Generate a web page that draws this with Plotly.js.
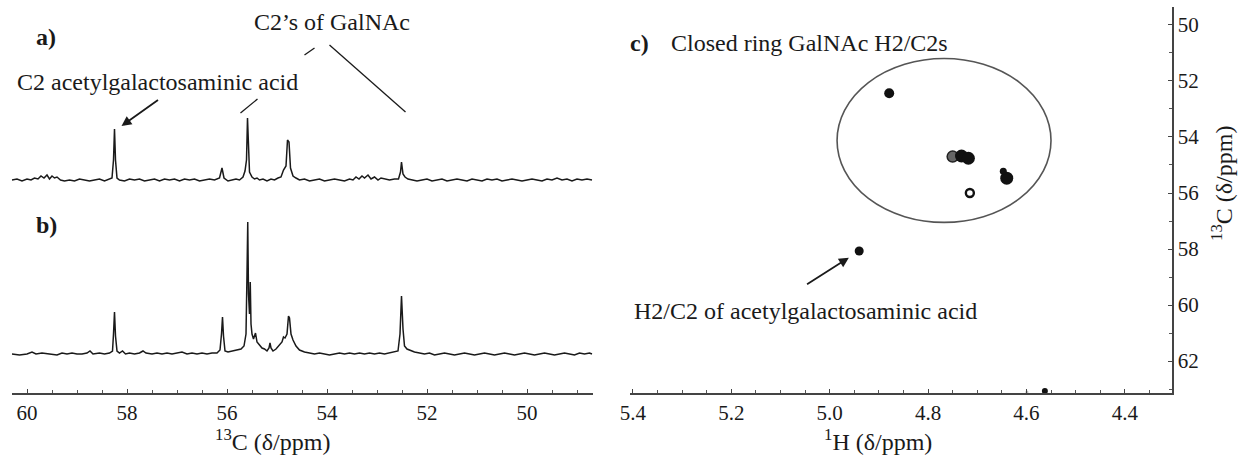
<!DOCTYPE html>
<html>
<head>
<meta charset="utf-8">
<script src="https://cdn.plot.ly/plotly-3.0.1.min.js"></script>
<style>html,body{margin:0;padding:0;background:#fff}#chart{width:1243px;height:455px}</style>
</head>
<body>
<div id="chart"></div>
<script>
// ---- 1D 13C spectrum a) (ppm, relative intensity) ----
const specA_ppm = [60.30,60.20,60.10,60.00,59.92,59.85,59.78,59.72,59.66,59.60,59.55,59.50,59.45,59.40,59.33,59.25,59.15,59.05,58.95,58.85,58.75,58.65,58.55,58.45,58.35,58.30,58.27,58.25,58.23,58.20,58.15,58.05,57.95,57.85,57.75,57.65,57.55,57.45,57.35,57.25,57.15,57.05,56.95,56.85,56.75,56.65,56.55,56.45,56.35,56.25,56.15,56.10,56.06,55.98,55.90,55.82,55.75,55.68,55.64,55.61,55.59,55.57,55.55,55.50,55.45,55.40,55.35,55.28,55.20,55.12,55.05,54.98,54.92,54.87,54.82,54.79,54.76,54.73,54.68,54.62,54.55,54.45,54.35,54.25,54.15,54.05,53.95,53.85,53.75,53.65,53.55,53.48,53.42,53.36,53.30,53.25,53.18,53.12,53.05,52.98,52.92,52.85,52.75,52.65,52.57,52.53,52.51,52.48,52.44,52.38,52.30,52.20,52.10,52.00,51.90,51.80,51.70,51.60,51.50,51.40,51.30,51.20,51.10,51.00,50.90,50.80,50.70,50.60,50.50,50.40,50.30,50.20,50.10,50.00,49.90,49.80,49.70,49.60,49.50,49.40,49.30,49.20,49.10,49.00,48.90,48.80,48.70];
const specA_int = [0,1,-1,1,0,2,1,4,2,5,1,4,2,3,0,-1,0,-1,1,0,-1,0,1,-1,1,2,20,51,20,2,0,-1,1,0,1,-1,0,1,-1,1,0,1,-1,1,0,1,-1,0,1,0,2,12,2,-1,0,1,0,3,9,20,62,30,8,3,1,2,0,1,-1,1,0,2,3,10,14,40,38,12,4,2,0,1,-1,0,1,-1,0,1,0,-1,1,0,3,1,4,2,5,1,3,0,2,1,0,1,1,8,18,6,3,1,0,-1,0,1,-1,0,1,-1,0,1,0,-1,1,0,-1,1,0,1,-1,0,1,0,-1,0,1,0,-1,1,0,2,0,1,-1,1,0,1,0];

// ---- 1D 13C spectrum b) ----
const specB_ppm = [60.30,60.15,60.00,59.90,59.82,59.70,59.55,59.40,59.30,59.20,59.10,59.00,58.90,58.80,58.74,58.68,58.55,58.45,58.35,58.29,58.27,58.25,58.23,58.20,58.15,58.09,58.03,57.95,57.85,57.75,57.68,57.62,57.50,57.40,57.30,57.20,57.10,57.00,56.90,56.80,56.70,56.60,56.50,56.40,56.30,56.20,56.14,56.11,56.09,56.07,56.04,55.98,55.90,55.80,55.72,55.66,55.62,55.60,55.585,55.57,55.55,55.535,55.52,55.50,55.47,55.43,55.40,55.35,55.30,55.25,55.20,55.16,55.14,55.12,55.08,55.02,54.96,54.90,54.87,54.84,54.80,54.77,54.75,54.72,54.68,54.62,54.55,54.45,54.35,54.25,54.15,54.05,53.95,53.85,53.75,53.65,53.55,53.45,53.35,53.25,53.15,53.05,52.95,52.85,52.75,52.65,52.58,52.54,52.51,52.48,52.45,52.40,52.35,52.25,52.15,52.05,51.95,51.85,51.75,51.65,51.55,51.45,51.35,51.25,51.15,51.05,50.95,50.85,50.75,50.65,50.55,50.45,50.35,50.25,50.15,50.05,49.95,49.85,49.75,49.65,49.55,49.45,49.35,49.25,49.15,49.05,48.95,48.85,48.75,48.70];
const specB_int = [0,-1,0,2,0,1,0,-1,1,0,1,0,0,1,3,0,1,0,1,3,20,42,18,3,1,3,0,1,0,1,3,1,0,1,0,1,0,1,2,0,1,0,1,0,1,1,4,20,37,18,3,2,3,4,5,8,20,80,132,60,40,72,30,20,15,21,12,9,6,5,3,6,11,6,3,5,8,12,17,16,20,38,36,20,14,8,4,2,1,0,1,0,-1,0,1,0,1,0,1,0,1,0,1,0,1,2,3,20,58,25,8,5,4,2,1,0,1,-1,0,1,0,-1,0,1,0,-1,0,1,0,-1,0,1,0,-1,0,1,0,-1,0,1,0,-1,0,1,0,-1,1,0,1,0];

// ---- 2D HSQC cross peaks (1H ppm, 13C ppm) ----
const cross_H = [4.879, 4.732, 4.718, 4.640, 4.647, 4.940, 4.5625];
const cross_C = [52.44, 54.68, 54.76, 55.47, 55.22, 58.07, 63.07];
const weak_H = [4.750];
const weak_C = [54.70];
const ring_H = [4.715];
const ring_C = [56.0];
const faint_H = [4.599];
const faint_C = [63.1];

// tick labels
const xTicksC = [60, 58, 56, 54, 52, 50];
const xTicksH = [5.4, 5.2, 5.0, 4.8, 4.6, 4.4];
const yTicksC = [50, 52, 54, 56, 58, 60, 62];

const offsetA = 213, offsetB = 39;
const W = 1243, H = 455;
const serif = '"Liberation Serif", "Times New Roman", serif';
const ink = '#1a1a1a';

const traces = [
  {x: specA_ppm, y: specA_int.map(v => v + offsetA), xaxis:'x', yaxis:'y', type:'scatter', mode:'lines',
   line:{color:ink, width:1.5}, hoverinfo:'skip'},
  {x: specB_ppm, y: specB_int.map(v => v + offsetB), xaxis:'x', yaxis:'y', type:'scatter', mode:'lines',
   line:{color:ink, width:1.5}, hoverinfo:'skip'},
  {x: weak_H, y: weak_C, xaxis:'x2', yaxis:'y2', type:'scatter', mode:'markers',
   marker:{color:'#666666', opacity:1, size:11, symbol:'circle', line:{width:1.5, color:'#222'}}, hoverinfo:'skip'},
  {x: cross_H, y: cross_C, xaxis:'x2', yaxis:'y2', type:'scatter', mode:'markers',
   marker:{color:'#111111', opacity:1, size:[10,13,13,13,7,9,6], symbol:'circle', line:{width:0}}, hoverinfo:'skip'},
  {x: ring_H, y: ring_C, xaxis:'x2', yaxis:'y2', type:'scatter', mode:'markers',
   marker:{color:'#ffffff', opacity:1, size:8, symbol:'circle', line:{width:2.4, color:'#111111'}}, hoverinfo:'skip'},
  {x: faint_H, y: faint_C, xaxis:'x2', yaxis:'y2', type:'scatter', mode:'markers',
   marker:{color:'#bbbbbb', size:3}, hoverinfo:'skip'}
];

const tickFont = {family: serif, size: 21, color: ink};
const txtFont = {family: serif, size: 24, color: ink};
const boldFont = {family: serif, size: 24, color: ink, weight: 'bold'};

function ann(o) { return Object.assign({xanchor:'center', yanchor:'middle', showarrow:false}, o); }

const layout = {
  width: W, height: H,
  margin: {l:0, r:0, t:0, b:0},
  paper_bgcolor:'#fff', plot_bgcolor:'rgba(0,0,0,0)',
  showlegend: false,
  xaxis: {domain:[11.7/W, 593/W], range:[60.306, 48.68], anchor:'y',
    showline:true, linecolor:'#444', linewidth:1.5, showgrid:false, zeroline:false,
    tickmode:'array', tickvals: xTicksC, ticktext: xTicksC.map(String),
    ticks:'inside', ticklen:4, tickcolor:'#444', tickfont: tickFont,
    minor:{dtick:0.5, ticks:'inside', ticklen:3, tickcolor:'#555', showgrid:false}},
  yaxis: {domain:[(H-393)/H, 1], range:[0, 393], visible:false, anchor:'x'},
  xaxis2: {domain:[630/W, 1172/W], range:[5.406, 4.304], anchor:'y2',
    showline:true, linecolor:'#444', linewidth:1.5, showgrid:false, zeroline:false,
    tickmode:'array', tickvals: xTicksH, ticktext: xTicksH.map(v => v.toFixed(1)),
    ticks:'inside', ticklen:4, tickcolor:'#444', tickfont: tickFont,
    minor:{dtick:0.05, ticks:'inside', ticklen:3, tickcolor:'#555', showgrid:false}},
  yaxis2: {domain:[1-393/H, 1-7/H], range:[63.14, 49.36], anchor:'x2', side:'right',
    showline:true, linecolor:'#444', linewidth:1.5, showgrid:false, zeroline:false,
    tickmode:'array', tickvals: yTicksC, ticktext: yTicksC.map(String),
    ticks:'inside', ticklen:4, tickcolor:'#444', tickfont: tickFont,
    minor:{dtick:1, ticks:'inside', ticklen:3, tickcolor:'#555', showgrid:false}},
  shapes: [
    {type:'circle', xref:'x2', yref:'y2', x0:4.985, x1:4.55, y0:51.2, y1:57.05,
     line:{color:'#555', width:1.6}},
    {type:'line', xref:'x', yref:'y', x0:54.25, y0:345, x1:54.45, y1:338, line:{color:ink, width:1.3}},
    {type:'line', xref:'x', yref:'y', x0:55.39, y0:294, x1:55.73, y1:280, line:{color:ink, width:1.3}},
    {type:'line', xref:'x', yref:'y', x0:53.95, y0:348, x1:52.43, y1:281, line:{color:ink, width:1.3}}
  ],
  annotations: [
    ann({text:'a)', xref:'x', yref:'y', x:59.63, y:356, font:boldFont}),
    ann({text:'b)', xref:'x', yref:'y', x:59.62, y:168, font:boldFont}),
    ann({text:'C2 acetylgalactosaminic acid', xref:'x', yref:'y', x:57.4, y:311, font:txtFont}),
    ann({text:'C2’s of GalNAc', xref:'x', yref:'y', x:53.9, y:371, font:txtFont}),
    {text:'', xref:'x', yref:'y', x:58.11, y:267, axref:'x', ayref:'y', ax:57.35, ay:294,
     showarrow:true, arrowhead:2, arrowsize:1.1, arrowwidth:1.8, arrowcolor:ink},
    ann({text:'c)', xref:'x2', yref:'y2', x:5.386, y:50.64, font:boldFont}),
    ann({text:'Closed ring GalNAc H2/C2s', xref:'x2', yref:'y2', x:5.327, y:50.64, xanchor:'left', font:txtFont}),
    ann({text:'H2/C2 of acetylgalactosaminic acid', xref:'x2', yref:'y2', x:5.402, y:60.21, xanchor:'left', font:txtFont}),
    {text:'', xref:'x2', yref:'y2', x:4.961, y:58.31, axref:'x2', ayref:'y2', ax:5.049, ay:59.29,
     showarrow:true, arrowhead:2, arrowsize:1.1, arrowwidth:1.8, arrowcolor:ink},
    ann({text:'<sup>13</sup>C (δ/ppm)', xref:'paper', yref:'paper', x:272/W, y:1-440/H, font:txtFont}),
    ann({text:'<sup>1</sup>H (δ/ppm)', xref:'paper', yref:'paper', x:878/W, y:1-440/H, font:txtFont}),
    ann({text:'<sup>13</sup>C (δ/ppm)', xref:'paper', yref:'paper', x:1222/W, y:1-184/H, textangle:-90, font:txtFont})
  ]
};

Plotly.newPlot('chart', traces, layout, {staticPlot:true, displayModeBar:false});
</script>
</body>
</html>
